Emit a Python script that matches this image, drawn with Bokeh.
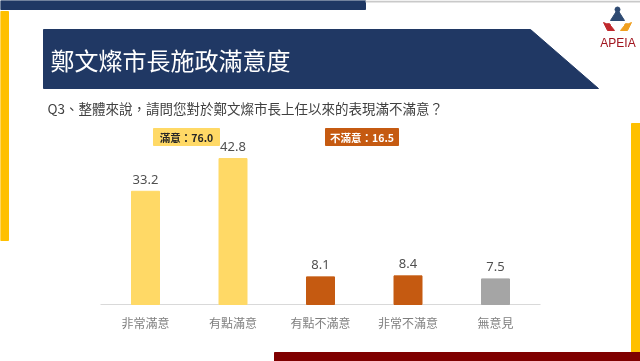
from bokeh.plotting import figure
from bokeh.models import Range1d, ColumnDataSource
from bokeh.core.properties import value
from bokeh.embed import file_html
from bokeh.resources import INLINE

# ---------------- data ----------------
categories = ["非常滿意", "有點滿意", "有點不滿意", "非常不滿意", "無意見"]
percentages = [33.2, 42.8, 8.1, 8.4, 7.5]
bar_colors = ["#FFD966", "#FFD966", "#C55A11", "#C55A11", "#A5A5A5"]
summary_labels = ["滿意：76.0", "不滿意：16.5"]
title_text = "鄭文燦市長施政滿意度"
question_text = "Q3、整體來說，請問您對於鄭文燦市長上任以來的表現滿不滿意？"
logo_text = "APEIA"

# ---------------- layout ----------------
W, H = 640, 361
CAT_STEP = 87.5          # px between category centers
FIRST_CENTER = 145       # px of first category center
BASE_Y = 304             # px of baseline
PX_PER_UNIT = 3.41       # px per percentage point

x_range = Range1d(-FIRST_CENTER / CAT_STEP, (W - FIRST_CENTER) / CAT_STEP)
y_range = Range1d(-(H - BASE_Y) / PX_PER_UNIT, BASE_Y / PX_PER_UNIT)

CJK = value("Noto Sans CJK TC")

p = figure(width=W, height=H, x_range=x_range, y_range=y_range,
           output_backend="svg", toolbar_location=None,
           x_axis_location=None, y_axis_location=None,
           min_border=0, outline_line_color=None)
p.grid.visible = False
p.background_fill_color = "white"
p.border_fill_color = "white"
p.styles = {"position": "fixed", "left": "0px", "top": "0px"}

p.extra_x_ranges = {"px": Range1d(0, W)}
p.extra_y_ranges = {"px": Range1d(H, 0)}
PX = dict(x_range_name="px", y_range_name="px")

# ---------------- decorations ----------------
p.quad(left=[0], right=[365], top=[0], bottom=[9], color="#1F3864", **PX)
p.segment(x0=[365], x1=[W], y0=[1], y1=[1], line_color="#C9C9C9", line_width=2, **PX)
p.quad(left=[0], right=[8], top=[11], bottom=[240], color="#FFC000", **PX)
p.quad(left=[631], right=[W], top=[123], bottom=[352], color="#FFC000", **PX)
p.quad(left=[274], right=[W], top=[352], bottom=[H], color="#7F0000", **PX)

# banner
p.patch(x=[43, 530, 598, 43], y=[29, 29, 88, 88], color="#203864", **PX)
p.text(x=[50], y=[59], text=[title_text], text_font=CJK, text_font_size="24px",
       text_color="white", text_baseline="middle", text_align="left", **PX)

# logo
p.patch(x=[617, 610, 624], y=[9, 20, 20], color="#2E4A72", **PX)
p.scatter(x=[617], y=[9], size=5, color="#2E4A72", **PX)
p.patch(x=[603, 607, 614, 610], y=[22, 30, 30, 25], color="#C0282C", **PX)
p.scatter(x=[608], y=[25], size=4, color="#C0282C", **PX)
p.patch(x=[631, 627, 620, 624], y=[22, 30, 30, 25], color="#F0A020", **PX)
p.scatter(x=[626], y=[25], size=4, color="#F0A020", **PX)
p.text(x=[617.5], y=[42], text=[logo_text], text_font=value("Liberation Sans"),
       text_font_size="12px", text_color="#A0141E", text_align="center",
       text_baseline="middle", **PX)

# question
p.text(x=[47], y=[107], text=[question_text], text_font=CJK, text_font_size="13.5px",
       text_color="#404040", text_baseline="middle", text_align="left", **PX)

# summary badges
p.quad(left=[153, 325], right=[219, 398], top=[128, 128], bottom=[145, 145],
       color=["#FFD966", "#C55A11"], **PX)
p.text(x=[186, 361.5], y=[137, 137], text=summary_labels, text_font=CJK,
       text_font_size="10.5px", text_font_style="bold",
       text_color=["#262626", "white"], text_align="center",
       text_baseline="middle", **PX)

# ---------------- chart ----------------
src = ColumnDataSource(dict(pos=list(range(len(categories))), cat=categories,
                            val=percentages, color=bar_colors,
                            lbl=[f"{v:.1f}" for v in percentages],
                            zero=[0] * len(categories)))

p.segment(x0=[100], x1=[540], y0=[0], y1=[0], line_color="#D9D9D9", line_width=1,
          x_range_name="px")
p.vbar(x="pos", top="val", width=28 / CAT_STEP, color="color", source=src)
p.text(x="pos", y="val", text="lbl", source=src, y_offset=-12,
       text_font=value("Noto Sans"), text_font_size="13px", text_color="#505050",
       text_align="center", text_baseline="middle")
p.text(x="pos", y="zero", text="cat", source=src, y_offset=18,
       text_font=CJK, text_font_size="12px", text_color="#7F7F7F",
       text_align="center", text_baseline="middle")

open("out.html", "w").write(file_html(p, INLINE))
